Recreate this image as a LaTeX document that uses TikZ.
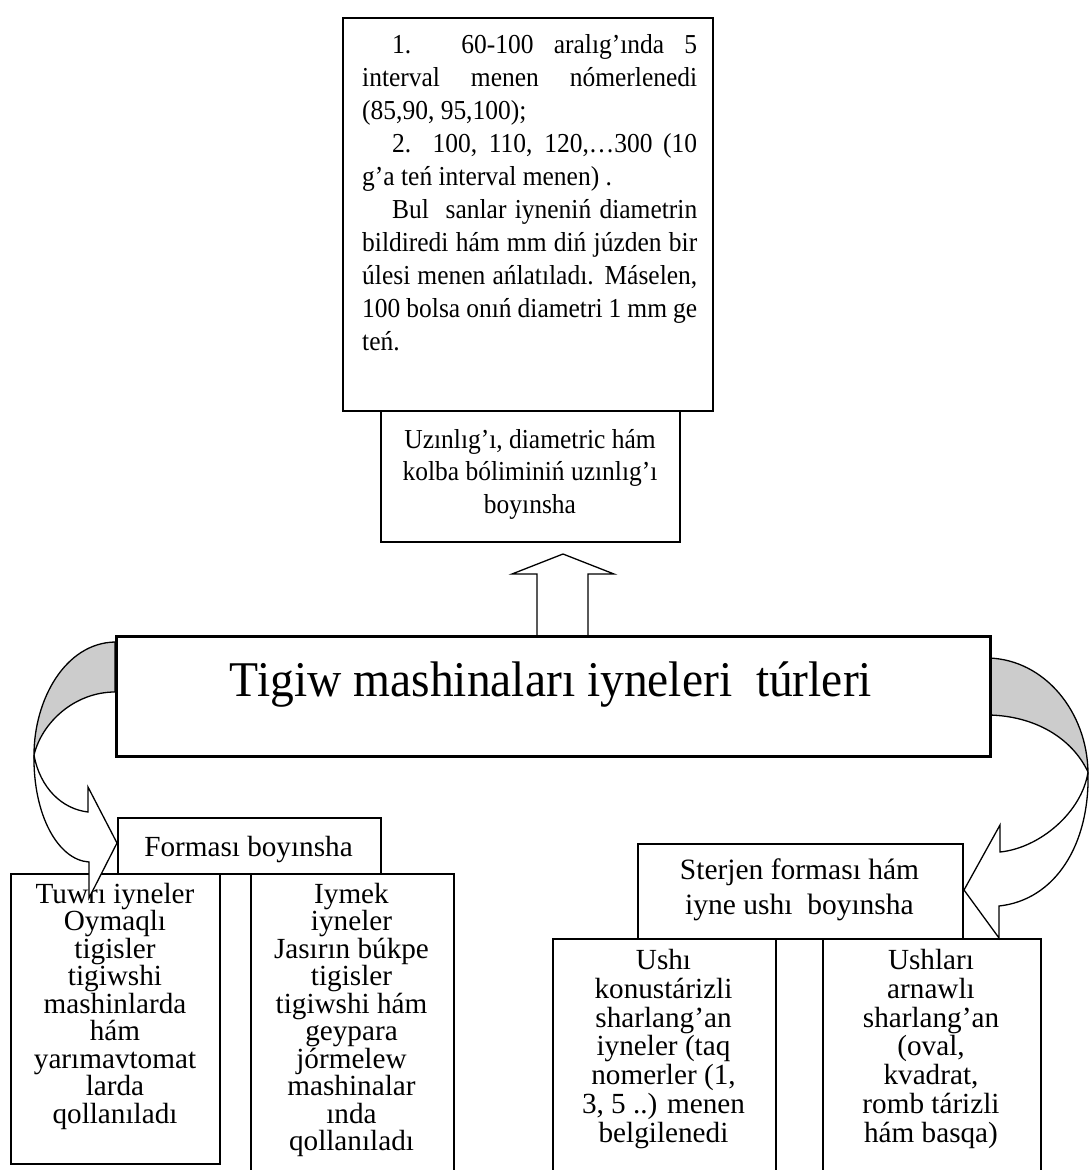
\documentclass[tikz,border=0pt]{standalone}
\usepackage{fontspec}
\setmainfont{Liberation Serif}
\newfontfamily\topfam[FakeStretch=0.93]{Liberation Serif}
\newfontfamily\titlefam[FakeStretch=0.95]{Liberation Serif}
\newcommand\mytopfont{\topfam\fontsize{27.4}{33}\selectfont\lineskiplimit=-50pt}
\newcommand\mymidfont{\topfam\fontsize{27.4}{32.5}\selectfont\lineskiplimit=-50pt}
\newcommand\mybotfont{\fontsize{29.2}{27.5}\selectfont\lineskiplimit=-50pt}
\newcommand\myushfont{\fontsize{29.2}{28.8}\selectfont\lineskiplimit=-50pt}
\newcommand\mysterfont{\fontsize{29.5}{35}\selectfont\lineskiplimit=-50pt}
\newcommand\mytitlefont{\titlefam\fontsize{50}{58}\selectfont}
\begin{document}
\begin{tikzpicture}[x=1pt,y=-1pt,
  frame/.style={draw, line width=2pt, fill=white, inner sep=0pt, anchor=north west},
  bigframe/.style={frame, line width=2.4pt},
  mainframe/.style={frame, line width=3.3pt},
  txt/.style={inner sep=0pt, align=center},
  arrowbody/.style={draw, line width=1.3pt, fill=white, line join=miter},
  band/.style={draw, line width=1.3pt, fill=gray!40}]
\useasboundingbox (0,0) rectangle (1090,1170);

% twisted parts of the curved arrows (under the main box)
\coordinate (LC) at (34,755);
\coordinate (RC) at (1088,772);
\path[band] (115,642) .. controls (65,643) and (34,700) .. (LC)
  .. controls (42,722) and (75,692) .. (115,692) -- cycle;
\path[band] (989,658) .. controls (1045,660) and (1087,712) .. (RC)
  .. controls (1072,738) and (1035,716) .. (989,715) -- cycle;

% up arrow
\path[arrowbody] (537,637) -- (537,574) -- (512,574) -- (563,554) -- (614,574) -- (588,574) -- (588,637);

% boxes
\node[bigframe, minimum width=370pt, minimum height=393pt] (topbox) at (342,17) {};
\node[bigframe, minimum width=299pt, minimum height=131pt] (midbox) at (380,410) {};
\node[mainframe, minimum width=874pt, minimum height=120pt] (mainbox) at (115,635) {};

\node[frame, minimum width=209pt, minimum height=290pt] (tuwbox) at (10,873) {};
\node[frame, minimum width=203pt, minimum height=320pt] (iymbox) at (250,873) {};
\node[frame, minimum width=263pt, minimum height=56pt] (formbox) at (117,817) {};

\node[frame, minimum width=223pt, minimum height=260pt] (ushbox) at (552,938) {};
\node[frame, minimum width=218pt, minimum height=260pt] (ushlbox) at (822,938) {};
\node[frame, minimum width=325pt, minimum height=95pt] (sterbox) at (637,843) {};

% texts
\node[inner sep=0pt, align=left, font=\mytopfont, anchor=north west] (toptext) at (362,34) {%
\hspace*{30pt}\makebox[305pt][s]{1. 60-100 aralıg’ında 5}\\
\makebox[335pt][s]{interval menen nómerlenedi}\\
(85,90, 95,100);\\
\hspace*{30pt}\makebox[305pt][s]{2. 100, 110, 120,…300 (10}\\
g’a teń interval menen) .\\
\hspace*{30pt}\makebox[305pt][s]{Bul\ \ sanlar iyneniń diametrin}\\
\makebox[335pt][s]{bildiredi hám mm diń júzden bir}\\
\makebox[335pt][s]{úlesi menen ańlatıladı. Máselen,}\\
\makebox[335pt][s]{100 bolsa onıń diametri 1 mm ge}\\
teń.};

\node[txt, font=\mymidfont, anchor=north] (midtext) at (530,429)
  {Uzınlıg’ı, diametric hám\\kolba bóliminiń uzınlıg’ı\\boyınsha};

\node[inner sep=0pt, font=\mytitlefont, anchor=base] (title) at (551,696)
  {Tigiw mashinaları iyneleri\ \ túrleri};

\node[inner sep=0pt, font=\mybotfont, anchor=base] (formtext) at (248.5,856) {Forması boyınsha};

\node[txt, font=\mybotfont, anchor=north] (tuwtext) at (115,883)
  {Tuwrı iyneler\\Oymaqlı\\tigisler\\tigiwshi\\mashinlarda\\hám\\yarımavtomat\\larda\\qollanıladı};

\node[txt, font=\mybotfont, anchor=north] (iymtext) at (351.5,883)
  {Iymek\\iyneler\\Jasırın búkpe\\tigisler\\tigiwshi hám\\geypara\\jórmelew\\mashinalar\\ında\\qollanıladı};

\node[txt, font=\mysterfont, anchor=north] (stertext) at (799.5,859)
  {Sterjen forması hám\\iyne ushı\ \ boyınsha};

\node[txt, font=\myushfont, anchor=north] (ushtext) at (663.5,949)
  {Ushı\\konustárizli\\sharlang’an\\iyneler (taq\\nomerler (1,\\3, 5 ..) menen\\belgilenedi};

\node[txt, font=\myushfont, anchor=north] (ushltext) at (931,949)
  {Ushları\\arnawlı\\sharlang’an\\(oval,\\kvadrat,\\romb tárizli\\hám basqa)};

% heads of the curved arrows
\path[arrowbody] (LC) .. controls (40,788) and (62,809) .. (88,812) -- (88,787) -- (formbox.west |- 0,843)
  -- (89,898) -- (89,862) .. controls (58,860) and (33,815) .. (LC) -- cycle;
\path[arrowbody] (RC) .. controls (1082,812) and (1040,848) .. (1000,852) -- (1000,825) -- (sterbox.east |- 0,890)
  -- (999,938) -- (999,906) .. controls (1055,900) and (1090,845) .. (RC) -- cycle;
\end{tikzpicture}
\end{document}
